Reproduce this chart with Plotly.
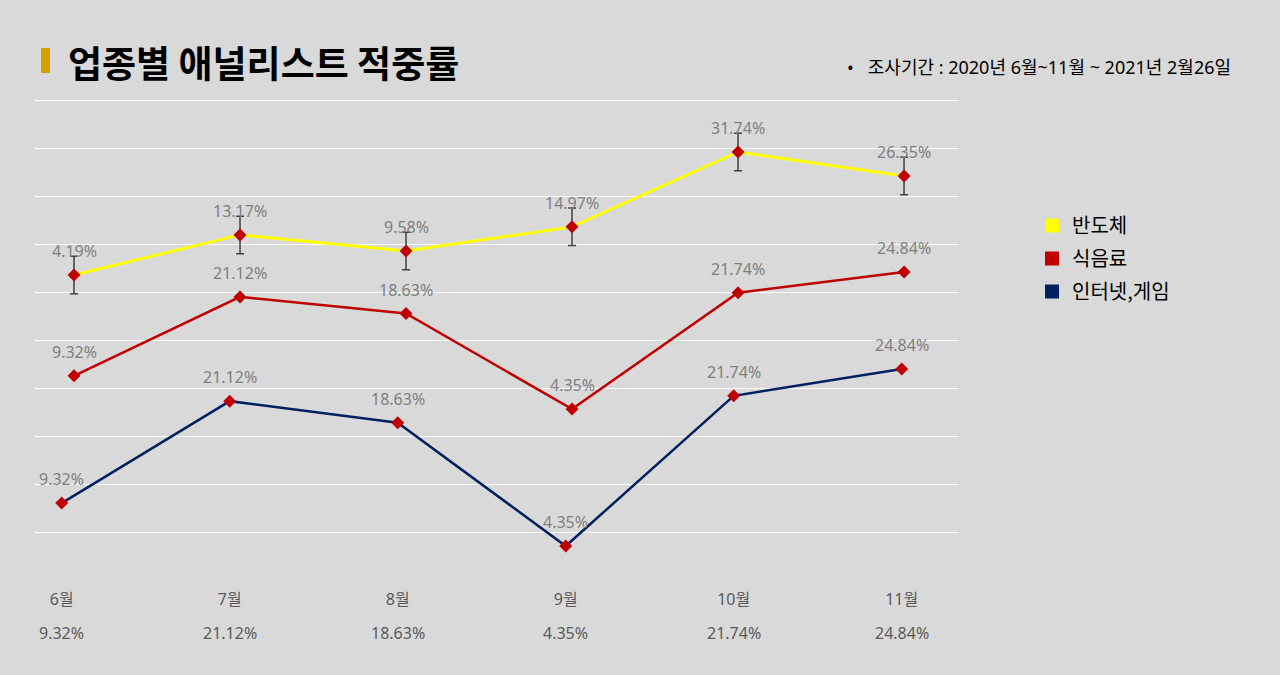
import plotly.graph_objects as go

# ---- data ----
months = ["6월", "7월", "8월", "9월", "10월", "11월"]
semis = [4.19, 13.17, 9.58, 14.97, 31.74, 26.35]          # 반도체
food = [9.32, 21.12, 18.63, 4.35, 21.74, 24.84]           # 식음료
internet = [9.32, 21.12, 18.63, 4.35, 21.74, 24.84]       # 인터넷,게임
table_values = [9.32, 21.12, 18.63, 4.35, 21.74, 24.84]   # row under the axis
series_names = ["반도체", "식음료", "인터넷,게임"]
semis_error = 4.2

# ---- styling / layout constants ----
W, H = 1280, 675
PL, PR, PT, PB = 35, 958, 90, 580   # plot area in pixels
GRID_TOP_PX = 100
BG = "#d9d9d9"
YELLOW, RED, NAVY = "#FFFF00", "#C00000", "#002060"
LABEL_GRAY = "#7f7f7f"
TICK_GRAY = "#595959"
FONT = "Noto Sans, Noto Sans CJK KR, sans-serif"
KFONT = "Noto Sans CJK KR, Noto Sans, sans-serif"

# per-series vertical scale: (pixel of value 0, pixels per unit)
SCALE_BLUE = (583.6, 8.638)
SCALE_RED = (438.1, 6.686)
SCALE_YELLOW = (293.7, 4.465)


def px_x(p):
    return (p - PL) / (PR - PL)


def px_y(p):
    return (PB - p) / (PB - PT)


def axis_range(scale):
    a, k = scale
    return [(a - PB) / k, (a - PT) / k]


grid_top = 10 * (PB - PT) / (PB - GRID_TOP_PX)

fig = go.Figure()

# grid helper trace (invisible) so the grid axis exists
fig.add_trace(go.Scatter(x=[months[0]], y=[0], xaxis="x", yaxis="y",
                         mode="markers", marker=dict(opacity=0),
                         showlegend=False, hoverinfo="skip"))

marker_style = dict(symbol="diamond", size=10, color=RED)

fig.add_trace(go.Scatter(
    x=months, y=internet, xaxis="x", yaxis="y2", mode="lines+markers",
    line=dict(color=NAVY, width=2.5), marker=marker_style,
    name=series_names[2], showlegend=False))

fig.add_trace(go.Scatter(
    x=months, y=food, xaxis="x2", yaxis="y3", mode="lines+markers",
    line=dict(color=RED, width=2.5), marker=marker_style,
    name=series_names[1], showlegend=False))

fig.add_trace(go.Scatter(
    x=months, y=semis, xaxis="x2", yaxis="y4", mode="lines+markers",
    line=dict(color=YELLOW, width=3), marker=marker_style,
    error_y=dict(type="constant", value=semis_error, color="#404040",
                 thickness=1.5, width=4),
    name=series_names[0], showlegend=False))

# legend-only entries (square swatches)
for nm, col, grp in zip(series_names, [YELLOW, RED, NAVY], ["a", "b", "c"]):
    fig.add_trace(go.Scatter(
        x=[None], y=[None], mode="markers", name=nm, legendgroup=grp,
        marker=dict(symbol="square", size=14, color=col),
        xaxis="x", yaxis="y"))

annotations = []
# data labels
for vals, xr, yr in [(internet, "x", "y2"), (food, "x2", "y3"), (semis, "x2", "y4")]:
    for m, v in zip(months, vals):
        annotations.append(dict(
            x=m, y=v, xref=xr, yref=yr, text=f"{v:.2f}%", showarrow=False,
            yshift=24, font=dict(family=FONT, size=16, color=LABEL_GRAY)))

# value row below the axis
for m, v in zip(months, table_values):
    annotations.append(dict(
        x=m, y=px_y(633), xref="x", yref="paper", text=f"{v:.2f}%",
        showarrow=False, yanchor="middle",
        font=dict(family=FONT, size=16, color=TICK_GRAY)))

# title & subtitle
annotations.append(dict(
    x=px_x(66), y=px_y(62), xref="paper", yref="paper", xanchor="left",
    yanchor="middle", showarrow=False, text="<b>업종별 애널리스트 적중률</b>",
    font=dict(family=KFONT, size=37, color="#000000")))
annotations.append(dict(
    x=px_x(845), y=px_y(67), xref="paper", yref="paper", xanchor="left",
    yanchor="middle", showarrow=False,
    text="•   조사기간 : 2020년 6월~11월 ~ 2021년 2월26일",
    font=dict(family=FONT, size=18, color="#000000")))

shapes = [dict(type="rect", xref="paper", yref="paper",
               x0=px_x(41), x1=px_x(50), y0=px_y(73), y1=px_y(48),
               fillcolor="#D4A000", line=dict(width=0))]

cat_x_range_blue = [-0.159, 5.335]
cat_x_range_other = [-0.235, 5.325]

fig.update_layout(
    width=W, height=H,
    paper_bgcolor=BG, plot_bgcolor=BG,
    margin=dict(l=PL, r=W - PR, t=PT, b=H - PB),
    font=dict(family=KFONT),
    xaxis=dict(type="category", categoryorder="array", categoryarray=months,
               range=cat_x_range_blue, showgrid=False, zeroline=False,
               showline=False, ticks="", ticklabelstandoff=8,
               tickfont=dict(family=FONT, size=16, color=TICK_GRAY)),
    xaxis2=dict(type="category", categoryorder="array", categoryarray=months,
                range=cat_x_range_other, overlaying="x", visible=False),
    yaxis=dict(range=[0, grid_top], tickvals=list(range(1, 11)), showticklabels=False,
               gridcolor="#ffffff", gridwidth=1.3, zeroline=False, showline=False),
    yaxis2=dict(range=axis_range(SCALE_BLUE), overlaying="y", visible=False),
    yaxis3=dict(range=axis_range(SCALE_RED), overlaying="y", visible=False),
    yaxis4=dict(range=axis_range(SCALE_YELLOW), overlaying="y", visible=False),
    legend=dict(x=px_x(1032), y=px_y(206), xanchor="left", yanchor="top",
                bgcolor="rgba(0,0,0,0)", traceorder="grouped",
                tracegroupgap=4,
                font=dict(family=KFONT, size=20, color="#000000")),
    annotations=annotations,
    shapes=shapes,
    hovermode=False,
)

fig.write_html("out.html", config={"displayModeBar": False},
               post_script="document.body.style.margin='0';")
